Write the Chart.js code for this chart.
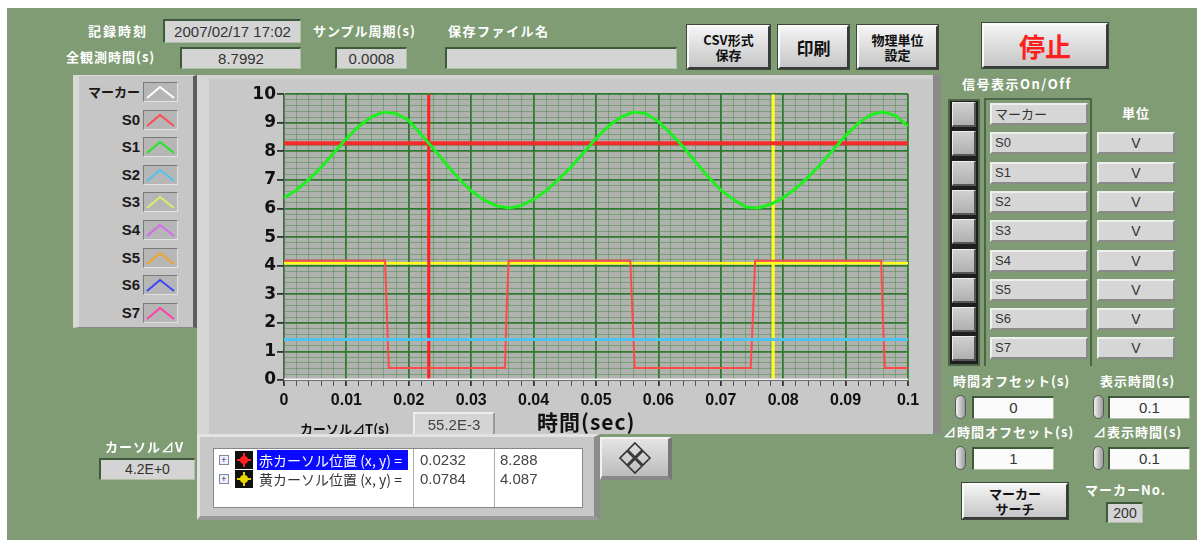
<!DOCTYPE html>
<html><head><meta charset="utf-8">
<script src="https://cdn.jsdelivr.net/npm/chart.js@4.4.1/dist/chart.umd.min.js"></script>
<style>
html,body{margin:0;padding:0;}
body{width:1197px;height:540px;background:#7f9c74;position:relative;overflow:hidden;font-family:"Liberation Sans","Noto Sans CJK JP",sans-serif;}
.a{position:absolute;box-sizing:border-box;}
.lbl{position:absolute;color:#fff;font-weight:bold;font-size:13px;font-family:"Noto Sans CJK JP",sans-serif;letter-spacing:1px;white-space:nowrap;line-height:16px;}
.box{position:absolute;box-sizing:border-box;background:#d4d4d4;border-top:2px solid #3f5a3a;border-left:2px solid #3f5a3a;border-right:1px solid #aebfa6;border-bottom:1px solid #aebfa6;color:#333;font-size:15px;text-align:center;font-family:"Liberation Sans",sans-serif;white-space:nowrap;}
.btn{position:absolute;box-sizing:border-box;background:linear-gradient(#f4f4f4,#c6c6c6);border:2px solid;border-color:#fafafa #3a3a3a #3a3a3a #fafafa;box-shadow:0 0 0 1px #3c4838;text-align:center;font-weight:bold;color:#111;font-family:"Noto Sans CJK JP",sans-serif;display:flex;align-items:center;justify-content:center;}
.spin{position:absolute;box-sizing:border-box;width:11px;height:24px;border-radius:6px;background:linear-gradient(90deg,#f0f0f0,#9a9a9a);border:1px solid #555;}
</style>
</head><body>
<div class="a" style="left:0;top:0;width:1197px;height:8px;background:#fff"></div>
<div class="a" style="left:0;top:0;width:7px;height:540px;background:#fff"></div>

<!-- top row -->
<div class="lbl" style="left:88px;top:23px;letter-spacing:2px">記録時刻</div>
<div class="box" style="left:163px;top:19px;width:138px;height:24px;line-height:21px">2007/02/17 17:02</div>
<div class="lbl" style="left:66px;top:49px">全観測時間(s)</div>
<div class="box" style="left:180px;top:47px;width:121px;height:22px;line-height:19px">8.7992</div>
<div class="lbl" style="left:313px;top:23px">サンプル周期(s)</div>
<div class="box" style="left:335px;top:47px;width:72px;height:22px;line-height:19px">0.0008</div>
<div class="lbl" style="left:448px;top:23px;letter-spacing:1.5px">保存ファイル名</div>
<div class="box" style="left:445px;top:47px;width:232px;height:22px"></div>

<div class="btn" style="left:687px;top:25px;width:83px;height:44px;font-size:13px;line-height:15px">CSV形式<br>保存</div>
<div class="btn" style="left:778px;top:25px;width:71px;height:44px;font-size:17px">印刷</div>
<div class="btn" style="left:857px;top:25px;width:81px;height:44px;font-size:13px;line-height:15px">物理単位<br>設定</div>
<div class="btn" style="left:982px;top:23px;width:126px;height:45px;font-size:26px;color:#ff1e1e">停止</div>

<!-- left legend panel -->
<div class="a" style="left:73px;top:75px;width:124px;height:253px;background:#c6c6c6;border-left:6px solid #d8d8d8;border-right:4px solid #5e5e5e;border-top:1px solid #ddd;border-bottom:1px solid #888"></div>
<div id="legend"></div>

<!-- graph panel -->
<div class="a" style="left:197px;top:75px;width:744px;height:359px;background:#c8c8c8;border-left:12px solid #d6d6d6;border-top:4px solid #d2d2d2;border-right:8px solid #a4a4a4;"></div>
<div class="a" style="left:933px;top:75px;width:8px;height:359px;background:#8a8a8a"></div>
<canvas id="c" width="720" height="330" style="position:absolute;left:200px;top:83px;"></canvas>
<div class="a" style="left:537px;top:406px;font:bold 21px 'Noto Sans CJK JP',sans-serif;letter-spacing:1px;color:#111;white-space:nowrap">時間(sec)</div>
<div class="a" style="left:300px;top:419px;font:bold 13px 'Noto Sans CJK JP',sans-serif;color:#111;white-space:nowrap">カーソル⊿T(s)</div>
<div class="a" style="left:413px;top:412px;width:82px;height:24px;background:#d4d4d4;border-top:2px solid #eee;border-left:2px solid #eee;border-right:2px solid #999;font-size:15px;color:#444;text-align:center;line-height:22px">55.2E-3</div>

<!-- cursor table panel -->
<div class="a" style="left:197px;top:434px;width:403px;height:86px;background:#c8c8c8;border-top:3px solid #e2e2e2;border-left:3px solid #e2e2e2;border-right:6px solid #8c8c8c;border-bottom:4px solid #9a9a9a"></div>
<div class="a" style="left:213px;top:448px;width:370px;height:60px;background:#fff;border:1px solid #888"></div>
<div class="a" style="left:413px;top:449px;width:1px;height:58px;background:#aaa"></div>
<div class="a" style="left:494px;top:449px;width:1px;height:58px;background:#aaa"></div>
<div class="a" style="left:257px;top:450px;width:151px;height:20px;background:#0a0aff"></div>
<div id="ctable"></div>

<!-- diamond button -->
<div class="a" style="left:600px;top:437px;width:72px;height:43px;background:linear-gradient(#e4e4e4,#bcbcbc);border-top:2px solid #f2f2f2;border-left:2px solid #f2f2f2;border-right:4px solid #777;border-bottom:4px solid #888">
<svg width="66" height="37" style="position:absolute;left:0;top:0"><g fill="none" stroke="#333" stroke-width="1.6">
<path d="M33 4 L40 11 L33 18 L26 11 Z"/><path d="M33 20 L40 27 L33 34 L26 27 Z"/><path d="M25 12 L32 19 L25 26 L18 19 Z"/><path d="M41 12 L48 19 L41 26 L34 19 Z"/></g></svg></div>

<!-- cursor dV -->
<div class="lbl" style="left:105px;top:439px">カーソル⊿V</div>
<div class="box" style="left:99px;top:458px;width:96px;height:22px;line-height:19px;font-size:14px">4.2E+0</div>

<!-- right panel -->
<div class="lbl" style="left:962px;top:76px;letter-spacing:1.5px">信号表示On/Off</div>
<div class="lbl" style="left:1122px;top:105px">単位</div>
<div class="a" style="left:948px;top:99px;width:32px;height:267px;background:#1e1e1e;border:2px solid #4d6446"></div>
<div class="a" style="left:984px;top:98px;width:108px;height:268px;border-left:2px solid #4d6446;border-top:2px solid #4d6446;border-right:2px solid #4d6446"></div>
<div id="rpanel"></div>

<div class="lbl" style="left:953px;top:373px">時間オフセット(s)</div>
<div class="lbl" style="left:1100px;top:373px">表示時間(s)</div>
<div class="spin" style="left:955px;top:395px"></div>
<div class="box" style="left:972px;top:396px;width:82px;height:23px;background:#fafafa;line-height:20px">0</div>
<div class="spin" style="left:1093px;top:395px"></div>
<div class="box" style="left:1108px;top:396px;width:82px;height:23px;background:#fafafa;line-height:20px">0.1</div>
<div class="lbl" style="left:943px;top:424px">⊿時間オフセット(s)</div>
<div class="lbl" style="left:1093px;top:424px">⊿表示時間(s)</div>
<div class="spin" style="left:955px;top:446px"></div>
<div class="box" style="left:972px;top:447px;width:82px;height:23px;background:#fafafa;line-height:20px">1</div>
<div class="spin" style="left:1093px;top:446px"></div>
<div class="box" style="left:1108px;top:447px;width:82px;height:23px;background:#fafafa;line-height:20px">0.1</div>
<div class="btn" style="left:962px;top:483px;width:106px;height:36px;font-size:13px;line-height:15px">マーカー<br>サーチ</div>
<div class="lbl" style="left:1085px;top:482px">マーカーNo.</div>
<div class="box" style="left:1106px;top:502px;width:37px;height:21px;line-height:18px;font-size:14px">200</div>

<script>
// ---------- data ----------
const seriesNames = ['マーカー','S0','S1','S2','S3','S4','S5','S6','S7'];
const seriesColors = ['#ffffff','#ff4a4a','#22e622','#4cc4f0','#d4f06a','#d866ee','#f2a426','#3c46ff','#ff3ca8'];
const unitLabels = ['V','V','V','V','V','V','V','V'];
const xTickLabels = ['0','0.01','0.02','0.03','0.04','0.05','0.06','0.07','0.08','0.09','0.1'];
const yTickLabels = ['0','1','2','3','4','5','6','7','8','9','10'];

const s1Times = [0,0.002,0.004,0.006,0.008,0.010,0.012,0.014,0.016,0.018,0.020,0.022,0.024,0.026,0.028,0.030,0.032,0.034,0.036,0.038,0.040,0.042,0.044,0.046,0.048,0.050,0.052,0.054,0.056,0.058,0.060,0.062,0.064,0.066,0.068,0.070,0.072,0.074,0.076,0.078,0.080,0.082,0.084,0.086,0.088,0.090,0.092,0.094,0.096,0.098,0.100];
const s1Values = [6.38,6.65,7.02,7.45,7.95,8.45,8.88,9.20,9.38,9.32,9.08,8.58,8.08,7.55,7.05,6.62,6.30,6.10,6.02,6.10,6.32,6.62,7.02,7.45,7.95,8.45,8.88,9.20,9.38,9.32,9.05,8.62,8.15,7.62,7.10,6.65,6.32,6.05,6.02,6.15,6.38,6.70,7.10,7.55,8.05,8.55,8.98,9.28,9.38,9.25,8.88];

const s0Times  = [0,0.0162,0.0165,0.0168,0.0354,0.0357,0.0360,0.0555,0.0559,0.0562,0.0748,0.0752,0.0755,0.0957,0.0960,0.0963,0.100];
const s0Values = [4.17,4.17,2.2,0.42,0.42,2.6,4.17,4.17,2.0,0.42,0.42,2.5,4.17,4.17,2.0,0.42,0.42];

const s2Times = [0,0.1];
const s2Values = [1.42,1.42];
const markerTimes = [0,0.1];
const markerValues = [0,0];

const cursorRed = {x:0.0232, y:8.288};
const cursorYellow = {x:0.0784, y:4.087};

// ---------- UI pieces ----------
const lg = document.getElementById('legend');
seriesNames.forEach((n,i)=>{
  const cy = 92 + 27.6*i;
  const isJ = i===0;
  lg.insertAdjacentHTML('beforeend',
   `<div class="a" style="left:78px;top:${cy-10}px;width:62px;text-align:right;font:bold ${isJ?13:15}px ${isJ?"'Noto Sans CJK JP'":"'Liberation Sans'"},sans-serif;color:#1a1a1a;line-height:20px;white-space:nowrap">${n}</div>
    <div class="a" style="left:143px;top:${cy-10}px;width:35px;height:20px;background:#b6b6b6;border-top:1px solid #7a7a7a;border-left:1px solid #7a7a7a;border-bottom:1px solid #e2e2e2;border-right:1px solid #e2e2e2">
    <svg width="33" height="18" style="position:absolute;left:0;top:0"><polyline points="3,15 16,4 30,15" fill="none" stroke="${seriesColors[i]}" stroke-width="2"/></svg></div>`);
});

const ct = document.getElementById('ctable');
const rows = [
  {icon:'#ff2020', text:'赤カーソル位置 (x, y) =', sel:true, c:cursorRed},
  {icon:'#e8d800', text:'黄カーソル位置 (x, y) =', sel:false, c:cursorYellow}
];
rows.forEach((r,i)=>{
  const cy = 460 + 19*i;
  ct.insertAdjacentHTML('beforeend',
   `<div class="a" style="left:219px;top:${cy-5}px;width:10px;height:10px;border:1px solid #7a8aa0;background:#eef;font-size:9px;line-height:8px;text-align:center;color:#334">+</div>
    <div class="a" style="left:235px;top:${cy-9}px;width:18px;height:18px;background:#111">
      <svg width="18" height="18"><path d="M9 2 V16 M2 9 H16" stroke="${r.icon}" stroke-width="2"/><circle cx="9" cy="9" r="4" fill="${r.icon}"/></svg></div>
    <div class="a" style="left:259px;top:${cy-10}px;font:14px 'Noto Sans CJK JP',sans-serif;line-height:20px;color:${r.sel?'#fff':'#333'};white-space:nowrap">${r.text}</div>
    <div class="a" style="left:420px;top:${cy-10}px;font:15px 'Liberation Sans',sans-serif;line-height:20px;color:#444">${r.c.x}</div>
    <div class="a" style="left:500px;top:${cy-10}px;font:15px 'Liberation Sans',sans-serif;line-height:20px;color:#444">${r.c.y}</div>`);
});

const rp = document.getElementById('rpanel');
seriesNames.forEach((n,i)=>{
  const top = 103 + 29.3*i;
  rp.insertAdjacentHTML('beforeend',
   `<div class="a" style="left:952px;top:${top-1}px;width:24px;height:25px;background:linear-gradient(#d0d0d0,#b0b0b0);border-top:1px solid #eee;border-left:1px solid #eee;border-bottom:2px solid #555;border-right:2px solid #555"></div>
    <div class="a" style="left:990px;top:${top}px;width:98px;height:22px;background:#d6d6d6;border-top:2px solid #eee;border-left:2px solid #eee;border-bottom:2px solid #8a8a8a;border-right:2px solid #8a8a8a;font:13px ${i===0?"'Noto Sans CJK JP'":"'Liberation Sans'"},sans-serif;color:#333;line-height:18px;padding-left:3px;white-space:nowrap">${n}</div>`);
  if(i>0){
    rp.insertAdjacentHTML('beforeend',
    `<div class="a" style="left:1097px;top:${top}px;width:78px;height:22px;background:#d6d6d6;border-top:2px solid #eee;border-left:2px solid #eee;border-bottom:2px solid #8a8a8a;border-right:2px solid #8a8a8a;font:14px 'Liberation Sans',sans-serif;color:#333;line-height:18px;text-align:center">${unitLabels[i-1]}</div>`);
  }
});

// ---------- chart ----------
const pts = (xs,ys)=>xs.map((x,i)=>({x, y:ys[i]}));
const majorGrid = '#2f7a2f', minorGrid = 'rgba(70,140,70,0.5)';
const plotBg = {
  id:'plotBg',
  beforeDraw(chart){
    const {ctx, chartArea:a} = chart;
    ctx.save(); ctx.fillStyle = '#b0b2b0'; ctx.fillRect(a.left, a.top, a.right-a.left, a.bottom-a.top); ctx.restore();
  }
};
const line = (data,color,w)=>({data, borderColor:color, borderWidth:w, showLine:true, pointRadius:0, fill:false, tension:0});

new Chart(document.getElementById('c'), {
  type:'scatter',
  data:{datasets:[
    line(pts(s2Times,s2Values), seriesColors[3], 3),
    line(pts(markerTimes,markerValues), '#f4f4f4', 3),
    line(pts(s0Times,s0Values), seriesColors[1], 2),
    line(pts(s1Times,s1Values), '#1ef01e', 3),
    line([{x:0,y:cursorRed.y},{x:0.1,y:cursorRed.y}], '#f52a2a', 4),
    line([{x:cursorRed.x,y:0},{x:cursorRed.x,y:10}], '#ff2020', 3),
    line([{x:0,y:cursorYellow.y},{x:0.1,y:cursorYellow.y}], '#ffff1a', 2.5),
    line([{x:cursorYellow.x,y:0},{x:cursorYellow.x,y:10}], '#ffff1a', 3)
  ]},
  options:{
    responsive:false, animation:false, devicePixelRatio:1,
    layout:{padding:{top:10,right:12,left:0,bottom:0}},
    plugins:{legend:{display:false}, tooltip:{enabled:false}},
    scales:{
      x:{type:'linear', min:0, max:0.1,
         afterFit:s=>{s.height=33; s.paddingRight=0; s.paddingLeft=0;},
         border:{color:'#707070', width:1},
         ticks:{stepSize:0.002, autoSkip:false, maxRotation:0, minRotation:0, padding:5, color:'#111',
                font:{family:'Liberation Sans', size:16, weight:'bold'},
                callback:(v,i)=> i%5===0 ? xTickLabels[i/5] : ''},
         grid:{color:c=> c.index%5===0 ? majorGrid : minorGrid,
               lineWidth:c=> c.index%5===0 ? 1.8 : 1,
               tickLength:6, tickColor:c=> c.index%5===0 ? '#333' : '#555'}
      },
      y:{type:'linear', min:0, max:10,
         afterFit:s=>{s.width=84;},
         border:{color:'#707070', width:1},
         ticks:{stepSize:0.2, autoSkip:false, padding:1, color:'#111',
                font:{family:'DejaVu Sans', size:17, weight:'bold'},
                callback:(v,i)=> i%5===0 ? yTickLabels[i/5] : ''},
         grid:{color:c=> c.index%5===0 ? majorGrid : minorGrid,
               lineWidth:c=> c.index%5===0 ? 1.8 : 1,
               tickLength:7, tickColor:c=> c.index%5===0 ? '#333' : 'rgba(0,0,0,0)'}
      }
    }
  },
  plugins:[plotBg]
});
</script>
</body></html>
